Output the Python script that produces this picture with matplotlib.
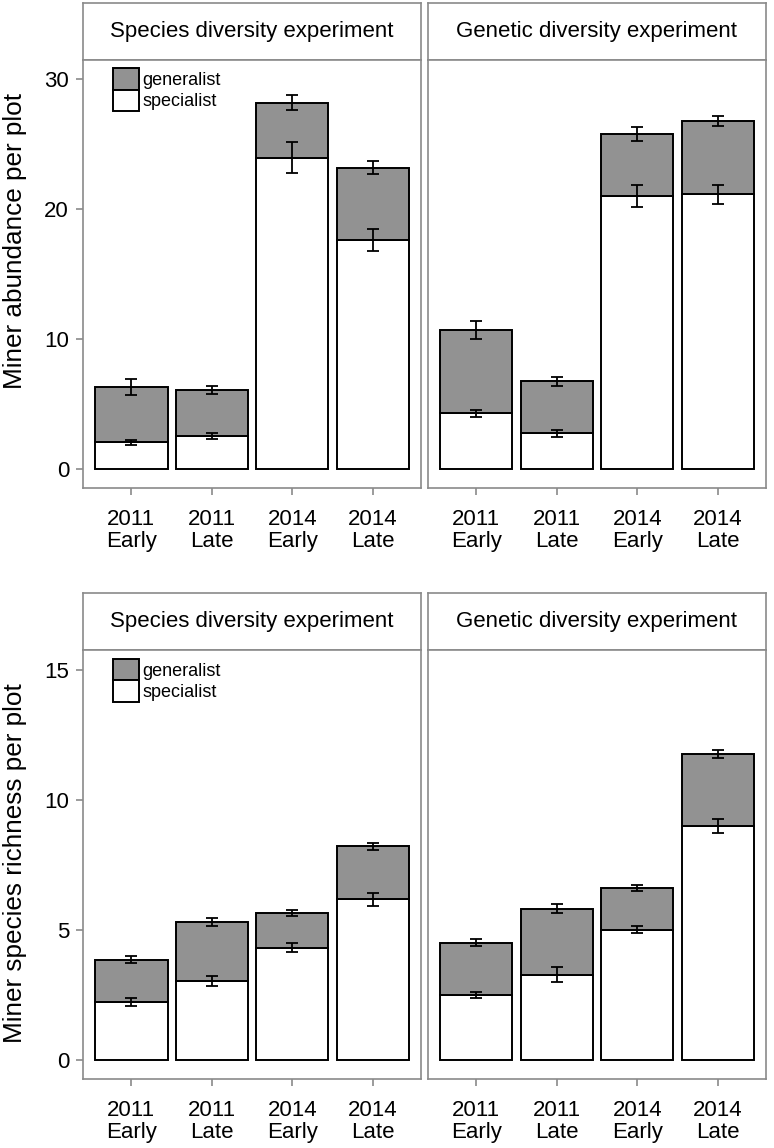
import matplotlib.pyplot as plt
from matplotlib.patches import Patch

plt.rcParams['font.family'] = ['Liberation Sans', 'DejaVu Sans']

periods = ["2011\nEarly", "2011\nLate", "2014\nEarly", "2014\nLate"]
experiments = ["Species diversity experiment", "Genetic diversity experiment"]

# Miner abundance per plot
abund_spec_species = [2.05, 2.54, 23.95, 17.59]
abund_spec_species_se = [0.2, 0.2, 1.2, 0.85]
abund_gen_species = [4.26, 3.54, 4.23, 5.59]
abund_gen_species_se = [0.6, 0.3, 0.57, 0.5]

abund_spec_genetic = [4.28, 2.74, 21.0, 21.15]
abund_spec_genetic_se = [0.28, 0.25, 0.87, 0.73]
abund_gen_genetic = [6.39, 4.0, 4.77, 5.62]
abund_gen_genetic_se = [0.7, 0.33, 0.54, 0.38]

# Miner species richness per plot
rich_spec_species = [2.23, 3.04, 4.32, 6.17]
rich_spec_species_se = [0.17, 0.19, 0.17, 0.24]
rich_gen_species = [1.63, 2.28, 1.33, 2.04]
rich_gen_species_se = [0.13, 0.15, 0.1, 0.12]

rich_spec_genetic = [2.49, 3.28, 5.01, 9.0]
rich_spec_genetic_se = [0.12, 0.28, 0.13, 0.28]
rich_gen_genetic = [2.02, 2.54, 1.61, 2.76]
rich_gen_genetic_se = [0.13, 0.16, 0.12, 0.15]

W, H = 774, 1148
GREY = "#929292"
FRAME = "#8a8a8a"

fig = plt.figure(figsize=(W / 100, H / 100), dpi=100)


def px_axes(x0, y0, x1, y1):
    return fig.add_axes([x0 / W, 1 - y1 / H, (x1 - x0) / W, (y1 - y0) / H])


def strip(x0, y0, x1, y1, label):
    ax = px_axes(x0, y0, x1, y1)
    ax.set_xticks([])
    ax.set_yticks([])
    for s in ax.spines.values():
        s.set_color(FRAME)
        s.set_linewidth(1.2)
    ax.text(0.5, 0.5, label, ha='center', va='center', fontsize=16,
            transform=ax.transAxes)


def panel(ax, spec, spec_se, gen, gen_se, ylim, yticks, show_y):
    x = range(1, len(periods) + 1)
    top = [s + g for s, g in zip(spec, gen)]
    ax.bar(x, spec, width=0.9, color='white', edgecolor='black', linewidth=1.4, zorder=2)
    ax.bar(x, gen, bottom=spec, width=0.9, color=GREY, edgecolor='black', linewidth=1.4, zorder=2)
    ax.errorbar(x, spec, yerr=spec_se, fmt='none', ecolor='black', elinewidth=1.3,
                capsize=4, capthick=1.3, zorder=3)
    ax.errorbar(x, top, yerr=gen_se, fmt='none', ecolor='black', elinewidth=1.3,
                capsize=4, capthick=1.3, zorder=3)
    ax.set_xlim(0.4, 4.6)
    ax.set_ylim(*ylim)
    ax.set_xticks(list(x))
    ax.set_xticklabels(periods, fontsize=16, linespacing=1.1)
    ax.set_yticks(yticks)
    ax.tick_params(axis='both', direction='out', length=5, width=1.2, color=FRAME,
                   labelsize=16)
    ax.tick_params(axis='x', pad=10)
    ax.tick_params(axis='y', pad=5)
    if not show_y:
        ax.tick_params(axis='y', left=False, labelleft=False)
    for s in ax.spines.values():
        s.set_color(FRAME)
        s.set_linewidth(1.2)


def add_legend(ax, anchor_y):
    handles = [Patch(facecolor=GREY, edgecolor='black', linewidth=1.4, label='generalist'),
               Patch(facecolor='white', edgecolor='black', linewidth=1.4, label='specialist')]
    ax.legend(handles=handles, loc='upper left', bbox_to_anchor=(0.088, anchor_y),
              frameon=False, fontsize=13, handlelength=1.45, handleheight=1.45,
              labelspacing=0.0, handletextpad=0.2, borderpad=0, borderaxespad=0)


# top row: abundance
strip(83, 3, 421, 60, experiments[0])
strip(428, 3, 766, 60, experiments[1])
ax1 = px_axes(83, 60, 421, 488)
ax2 = px_axes(428, 60, 766, 488)
panel(ax1, abund_spec_species, abund_spec_species_se, abund_gen_species, abund_gen_species_se,
      (-1.46, 31.46), [0, 10, 20, 30], True)
panel(ax2, abund_spec_genetic, abund_spec_genetic_se, abund_gen_genetic, abund_gen_genetic_se,
      (-1.46, 31.46), [0, 10, 20, 30], False)
ax1.set_ylabel("Miner abundance per plot", fontsize=18.8)
ax1.yaxis.set_label_coords((27 - 83) / 338, (488 - 241) / 428)
add_legend(ax1, 0.981)

# bottom row: richness
strip(83, 593, 421, 650, experiments[0])
strip(428, 593, 766, 650, experiments[1])
ax3 = px_axes(83, 650, 421, 1079)
ax4 = px_axes(428, 650, 766, 1079)
panel(ax3, rich_spec_species, rich_spec_species_se, rich_gen_species, rich_gen_species_se,
      (-0.73, 15.76), [0, 5, 10, 15], True)
panel(ax4, rich_spec_genetic, rich_spec_genetic_se, rich_gen_genetic, rich_gen_genetic_se,
      (-0.73, 15.76), [0, 5, 10, 15], False)
ax3.set_ylabel("Miner species richness per plot", fontsize=18.8)
ax3.yaxis.set_label_coords((27 - 83) / 338, (1079 - 863) / 429)
add_legend(ax3, 0.979)

fig.savefig("out.png", dpi=100)
